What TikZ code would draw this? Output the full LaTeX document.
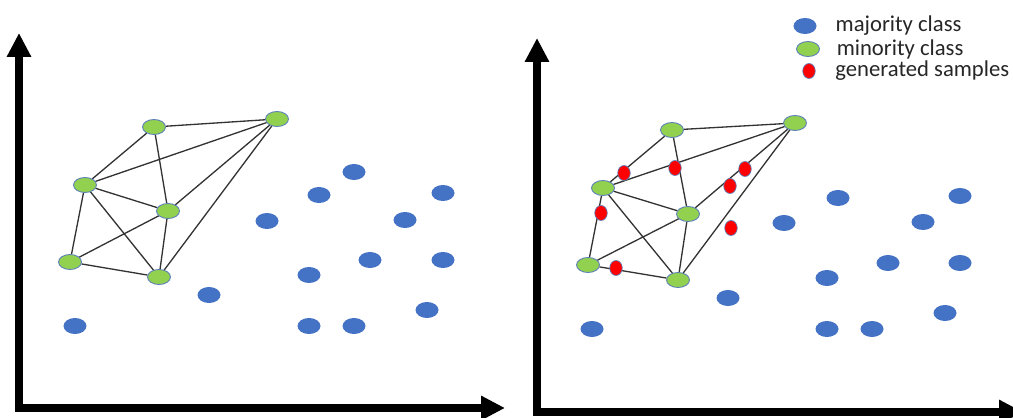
\documentclass[tikz,border=0pt]{standalone}
\usepackage{fontspec}
\setmainfont{Carlito}
\usepackage{tikz}
\usetikzlibrary{arrows.meta}
\usetikzlibrary{shapes.geometric}
\usetikzlibrary{positioning}

\definecolor{majblue}{HTML}{4472C4}
\definecolor{mingreen}{HTML}{92D050}
\definecolor{rimblue}{HTML}{5B7FB8}

\begin{document}
\begin{tikzpicture}[x=0.02cm,y=-0.02cm,
    majority/.style={ellipse,fill=majblue,minimum width=0.46cm,minimum height=0.32cm,inner sep=0pt},
    minority/.style={ellipse,draw=rimblue,line width=0.5pt,fill=mingreen,minimum width=0.46cm,minimum height=0.3cm,inner sep=0pt},
    sample/.style={ellipse,draw=rimblue,line width=0.4pt,fill=red,minimum width=0.25cm,minimum height=0.3cm,inner sep=0pt},
    axisline/.style={line width=4.5pt,line join=miter,{Triangle[width=0.46cm,length=0.48cm]}-{Triangle[width=0.46cm,length=0.48cm]}},
    link/.style={draw=black!80,line width=0.75pt},
    keytext/.style={inner sep=0pt,font=\fontsize{12.9}{15}\selectfont,text=black!85}]

  \clip (0,0) rectangle (1013,418);

  % original data set
  \draw [axisline] (19,33) -- (19,408) -- (505,408);

  \node [minority] (Lmin_1) at (154,127) {};
  \node [minority] (Lmin_2) at (277,119) {};
  \node [minority] (Lmin_3) at (85,185)  {};
  \node [minority] (Lmin_4) at (168,211) {};
  \node [minority] (Lmin_5) at (70,262)  {};
  \node [minority] (Lmin_6) at (159,277) {};

  \path [link]
    (Lmin_1) edge (Lmin_2)
    (Lmin_1) edge (Lmin_3)
    (Lmin_1) edge (Lmin_4)
    (Lmin_3) edge (Lmin_2)
    (Lmin_3) edge (Lmin_4)
    (Lmin_3) edge (Lmin_5)
    (Lmin_3) edge (Lmin_6)
    (Lmin_4) edge (Lmin_2)
    (Lmin_4) edge (Lmin_5)
    (Lmin_4) edge (Lmin_6)
    (Lmin_5) edge (Lmin_6)
    (Lmin_6) edge (Lmin_2);

  \node [majority] (Lmaj_1)  at (354,172) {};
  \node [majority] (Lmaj_2)  at (319,195) {};
  \node [majority] (Lmaj_3)  at (443,193) {};
  \node [majority] (Lmaj_4)  at (267,221) {};
  \node [majority] (Lmaj_5)  at (405,220) {};
  \node [majority] (Lmaj_6)  at (370,260) {};
  \node [majority] (Lmaj_7)  at (443,260) {};
  \node [majority] (Lmaj_8)  at (309,275) {};
  \node [majority] (Lmaj_9)  at (209,295) {};
  \node [majority] (Lmaj_10) at (427,310) {};
  \node [majority] (Lmaj_11) at (75,326)  {};
  \node [majority] (Lmaj_12) at (309,326) {};
  \node [majority] (Lmaj_13) at (354,326) {};

  % after oversampling
  \draw [axisline] (537,38) -- (537,412) -- (1023,412);

  \node [minority] (Rmin_1) at (672,130) {};
  \node [minority] (Rmin_2) at (795,123) {};
  \node [minority] (Rmin_3) at (603,188) {};
  \node [minority] (Rmin_4) at (688,214) {};
  \node [minority] (Rmin_5) at (588,265) {};
  \node [minority] (Rmin_6) at (678,280) {};

  \path [link]
    (Rmin_1) edge (Rmin_2)
    (Rmin_1) edge (Rmin_3)
    (Rmin_1) edge (Rmin_4)
    (Rmin_3) edge (Rmin_2)
    (Rmin_3) edge (Rmin_4)
    (Rmin_3) edge (Rmin_5)
    (Rmin_3) edge (Rmin_6)
    (Rmin_4) edge (Rmin_2)
    (Rmin_4) edge (Rmin_5)
    (Rmin_4) edge (Rmin_6)
    (Rmin_5) edge (Rmin_6)
    (Rmin_6) edge (Rmin_2);

  \node [sample] (Rgen_1) at (624,173) {};
  \node [sample] (Rgen_2) at (675,168) {};
  \node [sample] (Rgen_3) at (745,169) {};
  \node [sample] (Rgen_4) at (730,186) {};
  \node [sample] (Rgen_5) at (601,213) {};
  \node [sample] (Rgen_6) at (731,228) {};
  \node [sample] (Rgen_7) at (616,268) {};

  \node [majority] (Rmaj_1)  at (838,198) {};
  \node [majority] (Rmaj_2)  at (960,196) {};
  \node [majority] (Rmaj_3)  at (784,223) {};
  \node [majority] (Rmaj_4)  at (923,222) {};
  \node [majority] (Rmaj_5)  at (888,263) {};
  \node [majority] (Rmaj_6)  at (960,263) {};
  \node [majority] (Rmaj_7)  at (827,278) {};
  \node [majority] (Rmaj_8)  at (728,298) {};
  \node [majority] (Rmaj_9)  at (945,313) {};
  \node [majority] (Rmaj_10) at (592,329) {};
  \node [majority] (Rmaj_11) at (827,329) {};
  \node [majority] (Rmaj_12) at (872,329) {};

  % key
  \node [majority] (key_maj) at (805,26) {};
  \node [minority] (key_min) at (808,49) {};
  \node [sample]   (key_gen) at (809,71) {};
  \node [keytext,right=0.37cm of key_maj] (key_maj_txt) {majority class};
  \node [keytext,right=0.33cm of key_min] (key_min_txt) {minority class};
  \node [keytext,right=0.39cm of key_gen] (key_gen_txt) {generated samples};
\end{tikzpicture}
\end{document}
